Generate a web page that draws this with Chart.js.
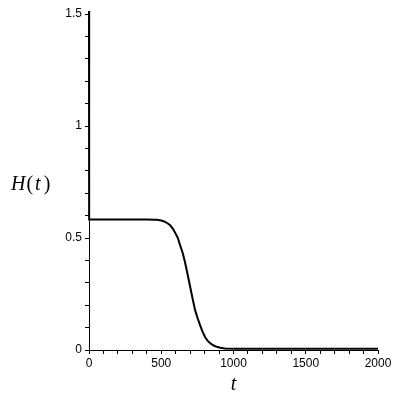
<!DOCTYPE html>
<html>
<head>
<meta charset="utf-8">
<script src="https://cdn.jsdelivr.net/npm/chart.js@4.4.0/dist/chart.umd.min.js"></script>
<style>
  html, body { margin: 0; padding: 0; background: #fff; }
</style>
</head>
<body>
<canvas id="chart" width="400" height="400"></canvas>
<script>
// values
const tValues = [0, 1, 100, 200, 300, 400, 450, 470, 500, 520, 540, 560, 580, 595, 615, 630, 650, 664, 680, 699, 715, 734, 750, 768, 785, 803, 820, 837, 855, 870, 890, 910, 940, 1000, 1500, 2000];
const hValues = [1.6, 0.583, 0.583, 0.583, 0.583, 0.583, 0.582, 0.581, 0.578, 0.574, 0.567, 0.558, 0.542, 0.525, 0.5, 0.469, 0.43, 0.393, 0.345, 0.286, 0.235, 0.179, 0.145, 0.112, 0.083, 0.058, 0.042, 0.031, 0.023, 0.018, 0.013, 0.01, 0.007, 0.006, 0.006, 0.006];
const xTicks = [0, 500, 1000, 1500, 2000];
const yTicks = [0, 0.5, 1, 1.5];

const points = tValues.map((t, i) => ({ x: t, y: hValues[i] }));

const isIn = (list, v) => list.some((k) => Math.abs(k - v) < 1e-6);

const tickFont = { family: '"Liberation Sans", Arial, sans-serif', size: 12 };

// H(t) drawn flat like the original, not rotated
const yLabel = {
  id: 'yLabel',
  afterDraw(chart) {
    const ctx = chart.ctx;
    ctx.save();
    ctx.fillStyle = '#000';
    ctx.textBaseline = 'alphabetic';
    let x = 11;
    const y = 190;
    [['H', 'italic', 1], ['(', 'normal', 2], ['t', 'italic', 3], [')', 'normal', 0]].forEach(([s, st, gap]) => {
      ctx.font = st + ' 20px "Liberation Serif", serif';
      ctx.fillText(s, x, y);
      x += ctx.measureText(s).width + gap;
    });
    ctx.restore();
  }
};

new Chart(document.getElementById('chart'), {
  type: 'scatter',
  data: {
    datasets: [{
      data: points,
      showLine: true,
      borderColor: '#000',
      borderWidth: 2,
      pointRadius: 0,
      fill: false,
      clip: 3,
      tension: 0
    }]
  },
  options: {
    responsive: false,
    animation: false,
    layout: { padding: { left: 0, right: 22, top: 14, bottom: 0 } },
    plugins: { legend: { display: false }, tooltip: { enabled: false } },
    scales: {
      x: {
        type: 'linear',
        min: 0,
        max: 2000,
        border: { display: true, color: '#000', width: 1 },
        grid: { drawOnChartArea: false, drawTicks: true, tickLength: 4, color: '#000' },
        ticks: {
          stepSize: 100,
          autoSkip: false,
          maxRotation: 0,
          padding: 2,
          color: '#000',
          font: tickFont,
          callback: (v) => (isIn(xTicks, v) ? String(v) : '')
        },
        title: {
          display: true,
          text: 't',
          color: '#000',
          font: { family: '"Liberation Serif", serif', size: 20, style: 'italic' },
          padding: { top: 0, bottom: 3 }
        },
        afterFit: (s) => { s.height = 50; s.paddingLeft = 0; s.paddingRight = 0; }
      },
      y: {
        type: 'linear',
        min: 0,
        max: 1.5,
        border: { display: true, color: '#000', width: 1 },
        grid: { drawOnChartArea: false, drawTicks: true, tickLength: 4, color: '#000' },
        ticks: {
          stepSize: 0.1,
          autoSkip: false,
          padding: 3,
          color: '#000',
          font: tickFont,
          callback: (v) => (isIn(yTicks, v) ? String(Math.round(v * 10) / 10) : '')
        },
        afterFit: (s) => { s.width = 89; s.paddingTop = 0; s.paddingBottom = 0; }
      }
    }
  },
  plugins: [yLabel]
});
</script>
</body>
</html>
